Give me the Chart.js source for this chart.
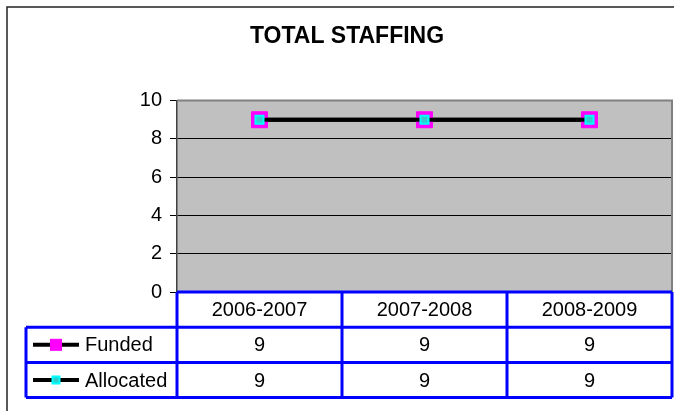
<!DOCTYPE html>
<html>
<head>
<meta charset="utf-8">
<title>Total Staffing</title>
<script src="https://cdn.jsdelivr.net/npm/chart.js@4.4.1/dist/chart.umd.min.js"></script>
<style>
  body { margin: 0; background: #fff; }
  #wrap { width: 674px; height: 411px; }
</style>
</head>
<body>
<div id="wrap"><canvas id="myChart"></canvas></div>
<script>
const years = ['2006-2007', '2007-2008', '2008-2009']
const funded = [9, 9, 9]
const allocated = [9, 9, 9]
const seriesNames = ['Funded', 'Allocated']
const yTicks = [0, 2, 4, 6, 8, 10]

const fuente = 'Arial, "Liberation Sans", sans-serif'
const chart = document.getElementById('myChart')

// fondo gris del area de trazado + marco exterior
const fondoPlot = {
  id: 'fondoPlot',
  beforeDraw: (c) => {
    const { ctx, chartArea: a } = c
    ctx.save()
    ctx.fillStyle = '#fff'
    ctx.fillRect(0, 0, c.width, c.height)
    ctx.fillStyle = '#c0c0c0'
    ctx.fillRect(a.left, a.top, a.width, a.height)
    ctx.strokeStyle = '#222'
    ctx.lineWidth = 1.5
    ctx.beginPath()
    ctx.moveTo(7, c.height)
    ctx.lineTo(7, 7)
    ctx.lineTo(c.width, 7)
    ctx.stroke()
    ctx.restore()
  }
}

// tabla de datos bajo el grafico, columnas tomadas de la escala x
const tablaDatos = {
  id: 'tablaDatos',
  afterDraw: (c) => {
    const { ctx, chartArea: a, scales: { x } } = c
    const rowH = 35.2
    const top = a.bottom
    const legendLeft = 26
    const half = (x.getPixelForValue(1) - x.getPixelForValue(0)) / 2
    const edges = years.map((_, i) => x.getPixelForValue(i) - half).concat(a.right)

    ctx.save()
    // borde del area de trazado
    ctx.strokeStyle = '#808080'
    ctx.lineWidth = 2
    ctx.beginPath()
    ctx.moveTo(a.left, a.top)
    ctx.lineTo(a.right, a.top)
    ctx.lineTo(a.right, a.bottom)
    ctx.stroke()

    ctx.font = '20px ' + fuente
    ctx.fillStyle = '#000'
    ctx.textAlign = 'center'
    ctx.textBaseline = 'middle'
    years.forEach((y, i) => {
      ctx.fillText(y, x.getPixelForValue(i), top + rowH / 2 + 1)
    })

    const series = [funded, allocated]
    series.forEach((vals, r) => {
      const cy = top + rowH * (r + 1.5) + 1
      vals.forEach((v, i) => {
        ctx.fillText(String(v), x.getPixelForValue(i), cy)
      })
    })

    // muestras de leyenda
    c.data.datasets.forEach((ds, r) => {
      const cy = top + rowH * (r + 1.5)
      ctx.strokeStyle = ds.borderColor
      ctx.lineWidth = 4
      ctx.beginPath()
      ctx.moveTo(33, cy)
      ctx.lineTo(79, cy)
      ctx.stroke()
      const s = r === 0 ? 11 : 7
      ctx.fillStyle = ds.pointBackgroundColor
      ctx.fillRect(56 - s / 2, cy - s / 2, s, s)
      ctx.strokeStyle = ds.pointBorderColor
      ctx.lineWidth = r === 0 ? 1 : 2
      ctx.strokeRect(56 - s / 2, cy - s / 2, s, s)
      ctx.fillStyle = '#000'
      ctx.textAlign = 'left'
      ctx.fillText(ds.label, 85, cy + 1)
    })

    // lineas azules
    ctx.strokeStyle = '#0000ff'
    ctx.lineWidth = 3
    ctx.beginPath()
    ctx.moveTo(a.left, top)
    ctx.lineTo(a.right, top)
    for (let r = 1; r <= 3; r++) {
      ctx.moveTo(legendLeft, top + rowH * r)
      ctx.lineTo(a.right, top + rowH * r)
    }
    edges.forEach((ex) => {
      ctx.moveTo(ex, top)
      ctx.lineTo(ex, top + rowH * 3)
    })
    ctx.moveTo(legendLeft, top + rowH)
    ctx.lineTo(legendLeft, top + rowH * 3)
    ctx.stroke()
    ctx.restore()
  }
}

const datasets = [
  {
    label: seriesNames[0],
    data: funded,
    borderColor: '#000',
    borderWidth: 4,
    pointStyle: 'rect',
    pointRadius: 11.3,
    pointBackgroundColor: '#ff00ff',
    pointBorderColor: '#ff00ff',
    pointBorderWidth: 1,
    order: 2
  },
  {
    label: seriesNames[1],
    data: allocated,
    borderColor: '#000',
    borderWidth: 4,
    pointStyle: 'rect',
    pointRadius: 5.7,
    pointBackgroundColor: '#33cccc',
    pointBorderColor: '#00ffff',
    pointBorderWidth: 2,
    order: 1
  }
]

const config = {
  type: 'line',
  data: { labels: years, datasets },
  options: {
    responsive: true,
    maintainAspectRatio: false,
    animation: false,
    layout: { autoPadding: false, padding: { left: 22, right: 2, top: 0, bottom: 119 } },
    plugins: {
      legend: { display: false },
      tooltip: { enabled: false },
      title: {
        display: true,
        text: 'TOTAL STAFFING',
        color: '#000',
        font: { family: fuente, size: 23, weight: 'bold' },
        padding: { top: 23, bottom: 50 }
      }
    },
    scales: {
      x: {
        display: false,
        offset: true
      },
      y: {
        min: yTicks[0],
        max: yTicks[yTicks.length - 1],
        afterFit: (scale) => { scale.width = 155 },
        ticks: {
          stepSize: yTicks[1] - yTicks[0],
          color: '#000',
          padding: 8,
          font: { family: fuente, size: 20 }
        },
        grid: {
          color: '#000',
          lineWidth: 1,
          tickLength: 7,
          tickColor: '#000'
        },
        border: { color: '#404040', width: 1.5 }
      }
    }
  },
  plugins: [fondoPlot, tablaDatos]
}

const myChart = new Chart(chart, config)
</script>
</body>
</html>
